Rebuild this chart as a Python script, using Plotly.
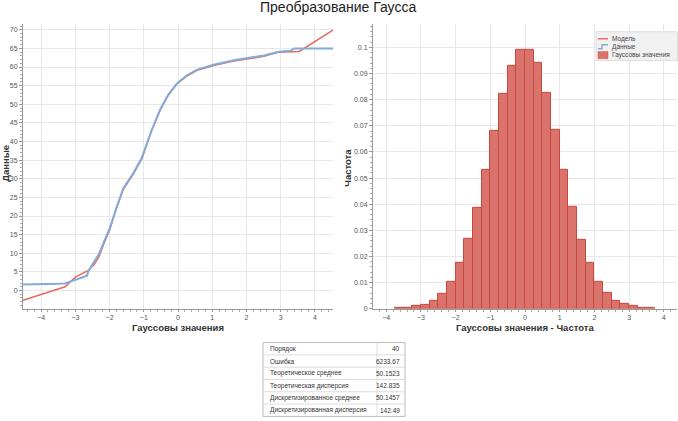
import plotly.graph_objects as go

# ---- Left chart: Gaussian transform (model vs data) ----
data_x = [-4.53, -3.55, -3.5, -3.3, -3.0, -2.72, -2.66, -2.62, -2.45, -2.3, -2.15, -2.0, -1.8,
          -1.6, -1.3, -1.06, -0.76, -0.52, -0.28, -0.03, 0.26, 0.56, 1.04, 1.63, 2.22,
          2.51, 2.95, 3.3, 3.4, 4.53]
data_y = [1.6, 1.6, 1.8, 1.9, 2.9, 4.0, 4.0, 5.2, 7.6, 10.0, 13.4, 16.6, 22.2,
          27.4, 31.6, 35.6, 43.3, 48.6, 52.6, 55.6, 57.8, 59.3, 60.6, 61.8, 62.7,
          63.1, 64.1, 64.4, 65.0, 65.0]
model_x = [-4.53, -3.3, -3.0, -2.62, -2.45, -2.3, -2.15, -2.0, -1.8, -1.6, -1.3, -1.06,
           -0.76, -0.52, -0.28, -0.03, 0.26, 0.56, 1.04, 1.63, 2.22, 2.51, 2.95, 3.54, 4.53]
model_y = [-2.6, 1.0, 3.6, 5.4, 7.0, 9.3, 13.0, 16.2, 22.0, 27.2, 31.3, 35.3,
           43.2, 48.5, 52.5, 55.5, 57.6, 59.1, 60.4, 61.6, 62.4, 62.9, 64.0, 64.2, 69.9]

# ---- Right chart: histogram of Gaussian values (bin width 0.25) ----
bin_centers = [-3.625, -3.375, -3.125, -2.875, -2.625, -2.375, -2.125, -1.875, -1.625,
               -1.375, -1.125, -0.875, -0.625, -0.375, -0.125, 0.125, 0.375, 0.625,
               0.875, 1.125, 1.375, 1.625, 1.875, 2.125, 2.375, 2.625, 2.875, 3.125,
               3.375, 3.625]
freq = [0.0002, 0.0004, 0.0010, 0.0017, 0.0031, 0.0059, 0.0105, 0.0174, 0.0267,
        0.0386, 0.0532, 0.0680, 0.0821, 0.0930, 0.0990, 0.0992, 0.0942, 0.0826,
        0.0683, 0.0533, 0.0390, 0.0265, 0.0174, 0.0103, 0.0060, 0.0032, 0.0018,
        0.0010, 0.0004, 0.0002]

# ---- Table ----
table_labels = ["Порядок", "Ошибка", "Теоретическое среднее", "Теоретическая дисперсия",
                "Дискретизированное среднее", "Дискретизированная дисперсия"]
table_values = ["40", "6233.67", "50.1523", "142.835", "50.1457", "142.49"]

legend_names = ["Модель", "Данные", "Гауссовы значения"]

FONT = "Liberation Sans, Arial, sans-serif"
W, H = 678, 421
RED_LINE = "#e8675c"
BLUE_LINE = "#82acd8"
BAR_FILL = "#d9736b"
BAR_EDGE = "#c8483f"


def px(x):
    return x / W


def py(y):
    return 1 - y / H


fig = go.Figure()
fig.add_trace(go.Scatter(x=model_x, y=model_y, mode="lines", name=legend_names[0],
                         line=dict(color=RED_LINE, width=1.5), xaxis="x", yaxis="y"))
fig.add_trace(go.Scatter(x=data_x, y=data_y, mode="lines", name=legend_names[1],
                         line=dict(color=BLUE_LINE, width=2), xaxis="x", yaxis="y"))
fig.add_trace(go.Bar(x=bin_centers, y=freq, width=0.25, name=legend_names[2],
                     marker=dict(color=BAR_FILL, line=dict(color=BAR_EDGE, width=1)),
                     xaxis="x2", yaxis="y2"))

tickfont = dict(size=7, color="#555", family=FONT)
common = dict(showgrid=True, gridcolor="#e8e8e8", gridwidth=1, zeroline=False,
              showline=True, linecolor="#999", linewidth=1, ticks="outside",
              ticklen=3, tickcolor="#999", tickfont=tickfont,
              minor=dict(ticks="outside", ticklen=2, tickcolor="#aaa", showgrid=False))

title_font = dict(size=9.5, color="#333", family=FONT, weight="bold")
shapes = []
annotations = [
    dict(text="Преобразование Гаусса", x=px(338), y=py(7), xref="paper", yref="paper",
         xanchor="center", yanchor="middle", showarrow=False,
         font=dict(size=14, color="#222", family=FONT)),
    dict(text="Гауссовы значения", x=px(178), y=py(330), xref="paper", yref="paper",
         xanchor="center", yanchor="middle", showarrow=False, font=title_font),
    dict(text="Гауссовы значения - Частота", x=px(525), y=py(330), xref="paper",
         yref="paper", xanchor="center", yanchor="middle", showarrow=False,
         font=title_font),
    dict(text="Данные", x=px(6), y=py(165), xref="paper", yref="paper",
         xanchor="center", yanchor="middle", showarrow=False, textangle=-90,
         font=title_font),
    dict(text="Частота", x=px(348), y=py(169), xref="paper", yref="paper",
         xanchor="center", yanchor="middle", showarrow=False, textangle=-90,
         font=title_font),
]

# ---- table drawn as a grid of cells ----
t_left, t_right, t_div, t_top, row_h = 263, 405, 377, 345, 12.4
n_rows = len(table_labels)
t_bottom = t_top + n_rows * row_h
shapes.append(dict(type="rect", xref="paper", yref="paper", x0=px(t_left), x1=px(t_right),
                   y0=py(t_bottom), y1=py(t_top), line=dict(color="#bbbbbb", width=1),
                   fillcolor="white", layer="below"))
shapes.append(dict(type="line", xref="paper", yref="paper", x0=px(t_div), x1=px(t_div),
                   y0=py(t_bottom), y1=py(t_top), line=dict(color="#dddddd", width=1)))
for i in range(1, n_rows):
    yy = t_top + i * row_h
    shapes.append(dict(type="line", xref="paper", yref="paper", x0=px(t_left), x1=px(t_right),
                       y0=py(yy), y1=py(yy), line=dict(color="#dddddd", width=1)))
for i, (lab, val) in enumerate(zip(table_labels, table_values)):
    yc = t_top + (i + 0.5) * row_h
    annotations.append(dict(text=lab, x=px(t_left + 5), y=py(yc), xref="paper", yref="paper",
                            xanchor="left", yanchor="middle", showarrow=False,
                            font=dict(size=6.5, color="#333", family=FONT)))
    annotations.append(dict(text=val, x=px(t_right - 3), y=py(yc), xref="paper", yref="paper",
                            xanchor="right", yanchor="middle", showarrow=False,
                            font=dict(size=6.5, color="#333", family=FONT)))

# ---- compact legend ----
lg_left, lg_top, lg_bottom = 596, 32, 61
shapes.append(dict(type="rect", xref="paper", yref="paper", x0=px(lg_left), x1=px(677.5),
                   y0=py(lg_bottom), y1=py(lg_top), line=dict(color="#dddddd", width=1),
                   fillcolor="#f1f1f1"))
shapes.append(dict(type="line", xref="paper", yref="paper", x0=px(598), x1=px(608),
                   y0=py(39), y1=py(39), line=dict(color=RED_LINE, width=1.5)))
shapes.append(dict(type="path", xref="paper", yref="paper",
                   path=f"M {px(598)} {py(49)} L {px(602)} {py(49)} L {px(602)} {py(45)} L {px(608)} {py(45)}",
                   line=dict(color=BLUE_LINE, width=1.5)))
shapes.append(dict(type="rect", xref="paper", yref="paper", x0=px(598), x1=px(608),
                   y0=py(59), y1=py(52), line=dict(color=BAR_EDGE, width=0.5),
                   fillcolor=BAR_FILL))
for name, yc in zip(legend_names, [39, 47, 55.5]):
    annotations.append(dict(text=name, x=px(610), y=py(yc), xref="paper", yref="paper",
                            xanchor="left", yanchor="middle", showarrow=False,
                            font=dict(size=6.5, color="#444", family=FONT)))

xcommon = dict(common, ticklen=2)

fig.update_layout(
    width=W, height=H,
    margin=dict(l=0, r=0, t=0, b=0),
    paper_bgcolor="white", plot_bgcolor="white",
    font=dict(family=FONT),
    showlegend=False,
    xaxis=dict(domain=[px(23), px(333)], range=[-4.53, 4.53], dtick=1,
               anchor="y", **xcommon),
    yaxis=dict(domain=[py(311), py(24)], range=[-4.9, 71.6], dtick=5,
               anchor="x", **common),
    xaxis2=dict(domain=[px(373), px(677)], range=[-4.38, 4.38], dtick=1,
                anchor="y2", **xcommon),
    yaxis2=dict(domain=[py(311), py(24)], range=[0, 0.109], dtick=0.01,
                anchor="x2", **common),
    bargap=0,
    shapes=shapes,
    annotations=annotations,
)

fig.write_html("out.html")
